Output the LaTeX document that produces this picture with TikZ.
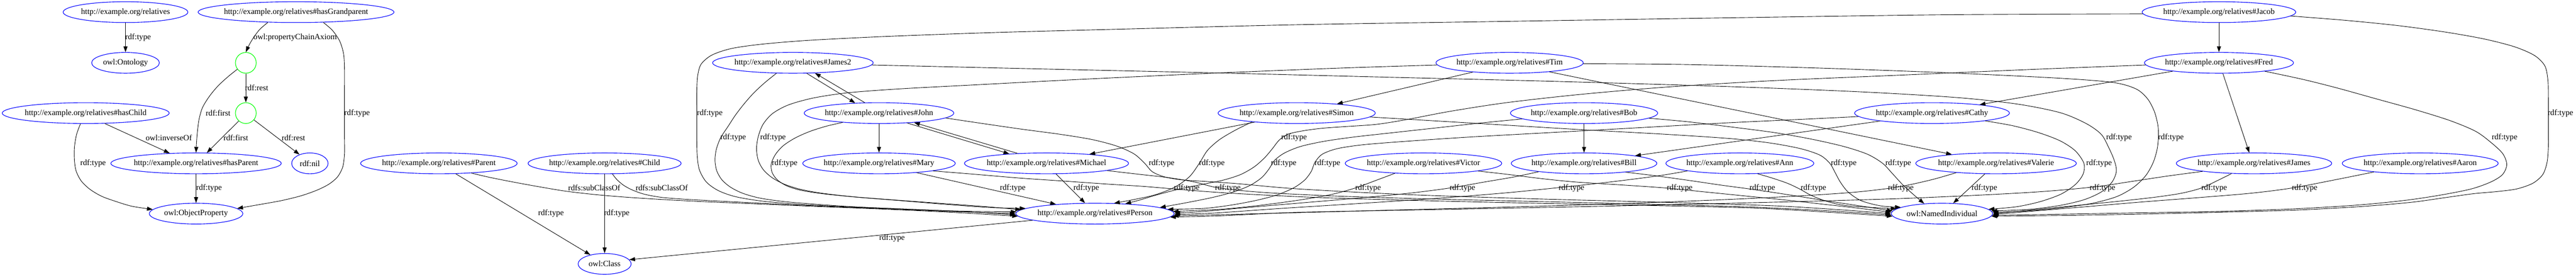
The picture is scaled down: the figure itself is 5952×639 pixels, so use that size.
\documentclass[tikz,border=0pt]{standalone}
\usepackage{fontspec}
\setmainfont{Liberation Serif}
\usetikzlibrary{shapes.geometric,arrows.meta,calc}
\newcommand\ndfont{\fontsize{14pt}{16pt}\selectfont}
\newcommand\rl{http://example.org/relatives\#}
\newcommand\mkn[4]{\node[ent,minimum width=#3pt] (#1) at (#2) {#4};}
\newcommand\bpt[4]{\path let \p1=(#2.center),\p2=(#2.east),\p3=(#2.north) in coordinate (#1) at ({\x1+(#3)*0.75pt},{\y1+(#4)*(\y3-\y1)*sqrt(max(0,1-(((#3)*0.75pt)/(\x2-\x1))*(((#3)*0.75pt)/(\x2-\x1))))});}
\newcommand\bsd[4]{\path let \p1=(#2.center),\p2=(#2.east),\p3=(#2.north) in coordinate (#1) at ({\x1+(#4)*(\x2-\x1)*sqrt(max(0,1-(((#3)*0.75pt)/(\y3-\y1))*(((#3)*0.75pt)/(\y3-\y1))))},{\y1-(#3)*0.75pt});}
\begin{document}
\begin{tikzpicture}[x=0.75pt,y=-0.75pt,
  ent/.style={ellipse,draw=blue,line width=1pt,minimum height=36pt,inner xsep=-40pt,inner ysep=0pt,font=\ndfont},
  bnode/.style={circle,draw=green,line width=1pt,minimum size=36pt,inner sep=0pt},
  edg/.style={draw=black,line width=0.8pt,-{Triangle[length=10pt,width=7pt]}},
  lbl/.style={font=\ndfont,inner sep=0pt}]
\useasboundingbox (0,0) rectangle (5952,639);
% ---------------- nodes
\mkn{rel}{290,28}{216.2}{http://example.org/relatives}
\mkn{hgp}{684,28}{339.5}{\rl hasGrandparent}
\mkn{jacob}{5127,28}{266.3}{\rl Jacob}
\mkn{ont}{290,145}{117.4}{owl:Ontology}
\node[bnode] (b1) at (568,145) {};
\mkn{james2}{1832,145}{278.3}{\rl James2}
\mkn{tim}{3488,145}{255.3}{\rl Tim}
\mkn{fred}{5127,145}{258.3}{\rl Fred}
\mkn{hch}{198,261}{289.4}{\rl hasChild}
\node[bnode] (b2) at (568,261) {};
\mkn{john}{2031,261}{259.3}{\rl John}
\mkn{simon}{2996,261}{272.4}{\rl Simon}
\mkn{bob}{3660,261}{255.3}{\rl Bob}
\mkn{cathy}{4464,261}{268.3}{\rl Cathy}
\mkn{hpar}{453,377}{295.4}{\rl hasParent}
\mkn{nil}{716,377}{63}{rdf:nil}
\mkn{parent}{1014,377}{271.3}{\rl Parent}
\mkn{child}{1397,377}{265.3}{\rl Child}
\mkn{mary}{2031,377}{264.3}{\rl Mary}
\mkn{michael}{2418,377}{284.4}{\rl Michael}
\mkn{victor}{3289,377}{271.3}{\rl Victor}
\mkn{bill}{3660,377}{252.3}{\rl Bill}
\mkn{ann}{4020,377}{256.3}{\rl Ann}
\mkn{valerie}{4612,377}{278.3}{\rl Valerie}
\mkn{james}{5208,377}{269.3}{\rl James}
\mkn{aaron}{5592,377}{270.3}{\rl Aaron}
\mkn{objp}{453,493}{162}{owl:ObjectProperty}
\mkn{person}{2530,493}{274.3}{\rl Person}
\mkn{ni}{4487,493}{175.5}{owl:NamedIndividual}
\mkn{cls}{1397,609}{92}{owl:Class}
% ---------------- border points
\bpt{hgpA}{hgp}{-65}{-1}
\bpt{hgpB}{hgp}{63}{-1}
\bpt{opR}{objp}{95}{1}
\bpt{opL}{objp}{-100}{1}
\bpt{hpTR}{hpar}{25}{1}
\bpt{hpTL}{hpar}{-61}{1}
\bpt{nilTL}{nil}{-24}{1}
\bpt{hchA}{hch}{44}{-1}
\bpt{hchB}{hch}{-12}{-1}
\bpt{parA}{parent}{39}{-1}
\bpt{parB}{parent}{75}{-1}
\bpt{clsTL}{cls}{-33}{1}
\bpt{clsR}{cls}{57}{1}
\bpt{chB}{child}{18}{-1}
\bpt{perB}{person}{-144}{-1}
\bsd{jcL}{jacob}{4}{-1}
\bpt{jcB}{jacob}{166}{-1}
\bpt{j2A}{james2}{-38}{-1}
\bsd{j2R}{james2}{5}{1}
\bpt{j2B}{james2}{32}{-1}
\bpt{j2C}{james2}{51}{-1}
\bsd{tiL}{tim}{5}{-1}
\bsd{tiR}{tim}{2}{1}
\bpt{tiA}{tim}{-85}{-1}
\bpt{tiB}{tim}{92}{-1}
\bsd{frL}{fred}{5}{-1}
\bpt{frA}{fred}{106}{-1}
\bpt{frB}{fred}{-107}{-1}
\bpt{frC}{fred}{9}{-1}
\bpt{joA}{john}{-84}{-1}
\bpt{joB}{john}{154}{-1}
\bpt{joC}{john}{-55}{1}
\bpt{joD}{john}{-33}{1}
\bpt{joE}{john}{65}{-1}
\bpt{joF}{john}{81}{-1}
\bpt{siA}{simon}{-103}{-1}
\bsd{siR}{simon}{9}{1}
\bpt{siB}{simon}{93}{1}
\bpt{siC}{simon}{-97}{-1}
\bpt{boA}{bob}{-143}{-1}
\bpt{boB}{bob}{150}{-1}
\bsd{caL}{cathy}{8}{-1}
\bpt{caB}{cathy}{123}{-1}
\bpt{caC}{cathy}{110}{1}
\bpt{caD}{cathy}{-120}{-1}
\bpt{maA}{mary}{87}{-1}
\bpt{maB}{mary}{125}{-1}
\bpt{miA}{michael}{22}{-1}
\bpt{miB}{michael}{140}{-1}
\bpt{miC}{michael}{-86}{1}
\bpt{miD}{michael}{-67}{1}
\bpt{miE}{michael}{99}{1}
\bpt{viA}{victor}{-66}{-1}
\bpt{viB}{victor}{126}{-1}
\bpt{biA}{bill}{-105}{-1}
\bpt{biB}{bill}{96}{-1}
\bpt{biC}{bill}{118}{1}
\bpt{anA}{ann}{-121}{-1}
\bpt{anB}{ann}{41}{-1}
\bpt{vaA}{valerie}{-92}{-1}
\bpt{vaB}{valerie}{-26}{-1}
\bpt{vaC}{valerie}{-102}{1}
\bpt{jaA}{james}{-119}{-1}
\bpt{jaB}{james}{-52}{-1}
\bpt{jaC}{james}{-11}{1}
\bpt{aaA}{aaron}{-107}{-1}
\bpt{pT1}{person}{-90}{1}
\bpt{pT2}{person}{-23}{1}
\bpt{pT3}{person}{44}{1}
\bpt{pT4}{person}{70}{1}
\bpt{pT5}{person}{150}{1}
\bsd{pLjo}{person}{-12}{-1}
\bsd{pLt}{person}{-9}{-1}
\bsd{pLj2}{person}{-4}{-1}
\bsd{pLc}{person}{0}{-1}
\bsd{pLj}{person}{3}{-1}
\bsd{pLp}{person}{6}{-1}
\bsd{pR1}{person}{-10}{1}
\bsd{pR2}{person}{-5}{1}
\bsd{pR3}{person}{-1}{1}
\bsd{pR4}{person}{2}{1}
\bsd{pR5}{person}{5}{1}
\bsd{pR6}{person}{8}{1}
\bpt{niT1}{ni}{26}{1}
\bpt{niT2}{ni}{-41}{1}
\bpt{niT3}{ni}{-95}{1}
\bpt{niT4}{ni}{-105}{1}
\bsd{niLb}{ni}{-6}{-1}
\bsd{niLv}{ni}{-3}{-1}
\bsd{niLj}{ni}{0}{-1}
\bsd{niLm}{ni}{3}{-1}
\bsd{niLy}{ni}{6}{-1}
\bsd{niRc}{ni}{-10}{1}
\bsd{niRj2}{ni}{-6}{1}
\bsd{niRt}{ni}{-3}{1}
\bsd{niRja}{ni}{0}{1}
\bsd{niRa}{ni}{2}{1}
\bsd{niRf}{ni}{4}{1}
\bsd{niRjc}{ni}{6}{1}
% ---------------- left cluster edges
\draw[edg] (rel) -- (ont);
\draw[edg] plot[smooth] coordinates {(hgpA) (600,68) (585,88) (575,105) (b1.north)};
\draw[edg] plot[smooth] coordinates {(hgpB) (768,70) (785,95) (794,125) (796,160) (796,200) (796,261) (796,320) (796,355) (792,385) (780,408) (760,425) (732,439) (695,452) (650,463) (600,472) (opR)};
\draw[edg] (b1) -- (b2);
\draw[edg] plot[smooth] coordinates {(b1.217) (528,176) (504,198) (484,222) (468,248) (460,275) (456,305) (454,330) (hpar.north)};
\draw[edg] (b2.228) -- (hpTR);
\draw[edg] (b2.320) -- (nilTL);
\draw[edg] (hchA) -- (hpTL);
\draw[edg] plot[smooth] coordinates {(hchB) (177,310) (172,340) (172,370) (176,395) (188,418) (208,437) (235,453) (268,465) (305,476) (opL)};
\draw[edg] (hpar) -- (objp);
\draw[edg] (parA) -- (clsTL);
\draw[edg] plot[smooth] coordinates {(parB) (1130,409) (1180,419) (1240,430) (1306,441) (1375,449) (1446,455) (1540,461) (1640,466) (1760,471) (1900,477) (2050,483) (2200,490) (pLp)};
\draw[edg] (child) -- (cls);
\draw[edg] plot[smooth] coordinates {(chB) (1425,414) (1440,427) (1460,438) (1488,448) (1525,455) (1570,459) (1640,463) (1740,468) (1860,474) (2000,480) (2170,487) (pLc)};
\draw[edg] (perB) -- (clsR);
% ---------------- individual-to-individual edges
\draw[edg] (jacob) -- (fred);
\draw[edg] (frC) -- (jaC);
\draw[edg] (frB) -- (caC);
\draw[edg] (tiA) -- (siB);
\draw[edg] (tiB) -- (vaC);
\draw[edg] (j2B) -- (joC);
\draw[edg] (joD) -- (j2C);
\draw[edg] (joE) -- (miC);
\draw[edg] (miD) -- (joF);
\draw[edg] (john) -- (mary);
\draw[edg] (bob) -- (bill);
\draw[edg] (siC) -- (miE);
\draw[edg] (caD) -- (biC);
% ---------------- rdf:type -> Person
\draw[edg] plot[smooth] coordinates {(jcL) (4500,34) (4000,41) (3500,49) (3000,57) (2600,67) (2300,75) (2050,84) (1870,93) (1760,102) (1690,112) (1645,127) (1620,148) (1612,175) (1610,210) (1610,261) (1610,320) (1611,360) (1616,392) (1632,420) (1660,440) (1700,454) (1760,464) (1840,471) (1950,477) (2080,482) (2220,488) (pLj)};
\draw[edg] plot[smooth] coordinates {(j2A) (1768,190) (1742,214) (1719,240) (1699,266) (1682,292) (1665,318) (1655,345) (1652,370) (1656,394) (1668,415) (1688,432) (1716,446) (1755,457) (1810,465) (1880,471) (1970,477) (2080,482) (2210,487) (pLj2)};
\draw[edg] plot[smooth] coordinates {(tiL) (3100,157) (2800,169) (2500,183) (2250,196) (2080,205) (1960,214) (1880,226) (1822,242) (1785,262) (1763,287) (1752,315) (1748,343) (1752,370) (1764,392) (1784,410) (1812,425) (1850,437) (1900,446) (1970,454) (2060,461) (2170,469) (2280,477) (pLt)};
\draw[edg] plot[smooth] coordinates {(joA) (1910,291) (1872,303) (1838,318) (1810,336) (1792,356) (1782,378) (1784,398) (1796,415) (1818,429) (1850,439) (1900,447) (1980,455) (2080,463) (2190,472) (2290,479) (pLjo)};
\draw[edg] (maA) -- (pT1);
\draw[edg] (miA) -- (pT2);
\draw[edg] plot[smooth] coordinates {(siA) (2855,300) (2818,322) (2790,347) (2771,377) (2748,408) (2712,433) (2660,452) (pT3)};
\draw[edg] plot[smooth] coordinates {(frL) (4700,160) (4400,173) (4100,186) (3850,201) (3650,218) (3480,237) (3350,257) (3250,276) (3180,287) (3110,292) (3055,296) (3010,302) (2975,310) (2955,324) (2940,343) (2922,364) (2898,385) (2866,403) (2825,416) (2775,426) (2722,437) (2672,450) (2632,462) (pT4)};
\draw[edg] plot[smooth] coordinates {(boA) (3420,284) (3320,295) (3220,306) (3130,316) (3060,326) (3005,338) (2968,353) (2945,370) (2932,390) (2915,410) (2888,428) (2850,443) (2800,456) (2740,468) (pT5)};
\draw[edg] plot[smooth] coordinates {(caL) (4150,276) (4000,283) (3800,294) (3600,305) (3400,316) (3250,326) (3150,334) (3090,343) (3055,356) (3038,375) (3030,395) (3015,415) (2990,433) (2950,450) (2900,463) (2840,474) (2780,481) (pR1)};
\draw[edg] plot[smooth] coordinates {(viA) (3180,416) (3131,434) (3075,449) (3000,462) (2910,474) (2820,483) (pR2)};
\draw[edg] plot[smooth] coordinates {(biA) (3500,408) (3430,420) (3349,434) (3255,446) (3140,457) (3010,468) (2880,479) (2780,488) (pR3)};
\draw[edg] plot[smooth] coordinates {(anA) (3830,406) (3720,420) (3601,433) (3480,445) (3330,457) (3150,469) (2960,481) (2800,492) (pR4)};
\draw[edg] plot[smooth] coordinates {(vaA) (4470,413) (4414,426) (4362,435) (4280,444) (4160,452) (4000,460) (3800,468) (3550,476) (3250,484) (2950,492) (2800,496) (pR5)};
\draw[edg] plot[smooth] coordinates {(jaA) (5010,406) (4930,418) (4850,430) (4770,438) (4690,444) (4580,450) (4470,455) (4370,459) (4200,464) (4000,469) (3700,476) (3350,483) (3000,490) (2820,498) (pR6)};
% ---------------- rdf:type -> NamedIndividual
\draw[edg] plot[smooth] coordinates {(maB) (2250,402) (2357,411) (2460,418) (2561,425) (2640,430) (2712,436) (2800,443) (2900,449) (3050,456) (3250,462) (3500,468) (3800,474) (4050,480) (4230,490) (niLy)};
\draw[edg] plot[smooth] coordinates {(miB) (2630,402) (2700,410) (2760,420) (2807,432) (2870,440) (2950,446) (3100,453) (3300,459) (3550,465) (3800,471) (4050,478) (4230,487) (niLm)};
\draw[edg] plot[smooth] coordinates {(joB) (2270,285) (2360,298) (2450,310) (2523,322) (2580,337) (2620,355) (2645,377) (2662,396) (2690,408) (2730,415) (2790,419) (2861,424) (3000,436) (3250,449) (3550,459) (3850,467) (4100,475) (4250,484) (niLj)};
\draw[edg] plot[smooth] coordinates {(viB) (3480,402) (3560,412) (3640,420) (3750,427) (3851,434) (3940,443) (4030,452) (4120,461) (4210,471) (4290,480) (niLv)};
\draw[edg] plot[smooth] coordinates {(biB) (3820,405) (3900,416) (3975,427) (4042,436) (4110,446) (4180,457) (4250,468) (4310,477) (niLb)};
\draw[edg] plot[smooth] coordinates {(anB) (4095,411) (4130,423) (4158,436) (4185,451) (4222,465) (4270,475) (niT4)};
\draw[edg] plot[smooth] coordinates {(siR) (3400,284) (3650,299) (3850,310) (4000,320) (4090,330) (4160,343) (4205,358) (4228,377) (4240,398) (4252,420) (4270,443) (4300,463) (4345,475) (niT3)};
\draw[edg] plot[smooth] coordinates {(boB) (3900,281) (4000,293) (4100,306) (4185,321) (4260,338) (4315,356) (4350,377) (4372,400) (4395,425) (4420,448) (niT2)};
\draw[edg] (vaB) -- (niT1);
\draw[edg] plot[smooth] coordinates {(caB) (4650,290) (4710,306) (4760,325) (4795,348) (4815,377) (4813,402) (4795,426) (4762,448) (4715,465) (4660,477) (niRc)};
\draw[edg] plot[smooth] coordinates {(j2R) (2400,159) (2800,168) (3200,178) (3600,188) (4000,200) (4300,212) (4520,225) (4660,240) (4760,260) (4820,285) (4855,310) (4872,340) (4885,370) (4890,395) (4880,420) (4855,443) (4815,461) (4760,474) (4690,483) (niRj2)};
\draw[edg] plot[smooth] coordinates {(tiR) (3900,149) (4200,157) (4500,168) (4750,180) (4880,190) (4935,205) (4962,228) (4978,258) (4986,290) (4987,317) (4984,345) (4975,375) (4958,405) (4930,432) (4890,454) (4830,470) (4750,481) (4680,487) (niRt)};
\draw[edg] plot[smooth] coordinates {(jaB) (5125,416) (5086,434) (5040,446) (4980,455) (4900,464) (4810,473) (4720,482) (niRja)};
\draw[edg] plot[smooth] coordinates {(aaA) (5400,414) (5295,434) (5200,446) (5080,456) (4950,466) (4820,477) (4700,487) (niRa)};
\draw[edg] plot[smooth] coordinates {(frA) (5320,183) (5400,203) (5490,228) (5580,253) (5660,278) (5720,303) (5757,330) (5783,355) (5792,380) (5782,403) (5755,420) (5710,436) (5640,450) (5560,462) (5450,473) (5300,482) (5120,488) (4950,491) (4780,494) (niRf)};
\draw[edg] plot[smooth] coordinates {(jcB) (5420,47) (5540,59) (5650,74) (5740,90) (5810,108) (5856,128) (5880,152) (5887,185) (5888,225) (5888,261) (5888,300) (5888,340) (5885,375) (5875,403) (5852,423) (5815,436) (5770,442) (5715,447) (5650,456) (5570,467) (5450,477) (5300,485) (5120,490) (4950,494) (4780,497) (niRjc)};
% ---------------- labels
\node[lbl] (lb1) at (319,87) {rdf:type};
\node[lbl] (lb2) at (682,87) {owl:propertyChainAxiom};
\node[lbl] (lb3) at (825,261) {rdf:type};
\node[lbl] (lb4) at (593,203) {rdf:rest};
\node[lbl] (lb5) at (504,261) {rdf:first};
\node[lbl] (lb6) at (545,318) {rdf:first};
\node[lbl] (lb7) at (678,318) {rdf:rest};
\node[lbl] (lb8) at (390,318) {owl:inverseOf};
\node[lbl] (lb9) at (215,377) {rdf:type};
\node[lbl] (lb10) at (483,434) {rdf:type};
\node[lbl] (lb11) at (1273,493) {rdf:type};
\node[lbl] (lb12) at (1373,434) {rdfs:subClassOf};
\node[lbl] (lb13) at (1425,493) {rdf:type};
\node[lbl] (lb14) at (1529,434) {rdfs:subClassOf};
\node[lbl] (lb15) at (2061,550) {rdf:type};
\node[lbl] (lb16) at (1640,261) {rdf:type};
\node[lbl] (lb17) at (5916,261) {rdf:type};
\node[lbl] (lb18) at (1694,317) {rdf:type};
\node[lbl] (lb19) at (4896,317) {rdf:type};
\node[lbl] (lb20) at (1786,317) {rdf:type};
\node[lbl] (lb21) at (5016,317) {rdf:type};
\node[lbl] (lb22) at (2990,317) {rdf:type};
\node[lbl] (lb23) at (5787,317) {rdf:type};
\node[lbl] (lb24) at (1813,377) {rdf:type};
\node[lbl] (lb25) at (2684,377) {rdf:type};
\node[lbl] (lb26) at (2800,377) {rdf:type};
\node[lbl] (lb27) at (4260,377) {rdf:type};
\node[lbl] (lb28) at (2966,377) {rdf:type};
\node[lbl] (lb29) at (4386,377) {rdf:type};
\node[lbl] (lb30) at (3067,377) {rdf:type};
\node[lbl] (lb31) at (4850,377) {rdf:type};
\node[lbl] (lb32) at (2340,434) {rdf:type};
\node[lbl] (lb33) at (2742,434) {rdf:type};
\node[lbl] (lb34) at (2510,434) {rdf:type};
\node[lbl] (lb35) at (2837,434) {rdf:type};
\node[lbl] (lb36) at (3161,434) {rdf:type};
\node[lbl] (lb37) at (3881,434) {rdf:type};
\node[lbl] (lb38) at (3379,434) {rdf:type};
\node[lbl] (lb39) at (4072,434) {rdf:type};
\node[lbl] (lb40) at (3631,434) {rdf:type};
\node[lbl] (lb41) at (4190,434) {rdf:type};
\node[lbl] (lb42) at (4392,434) {rdf:type};
\node[lbl] (lb43) at (4585,434) {rdf:type};
\node[lbl] (lb44) at (4858,434) {rdf:type};
\node[lbl] (lb45) at (5116,434) {rdf:type};
\node[lbl] (lb46) at (5325,434) {rdf:type};
\end{tikzpicture}
\end{document}
